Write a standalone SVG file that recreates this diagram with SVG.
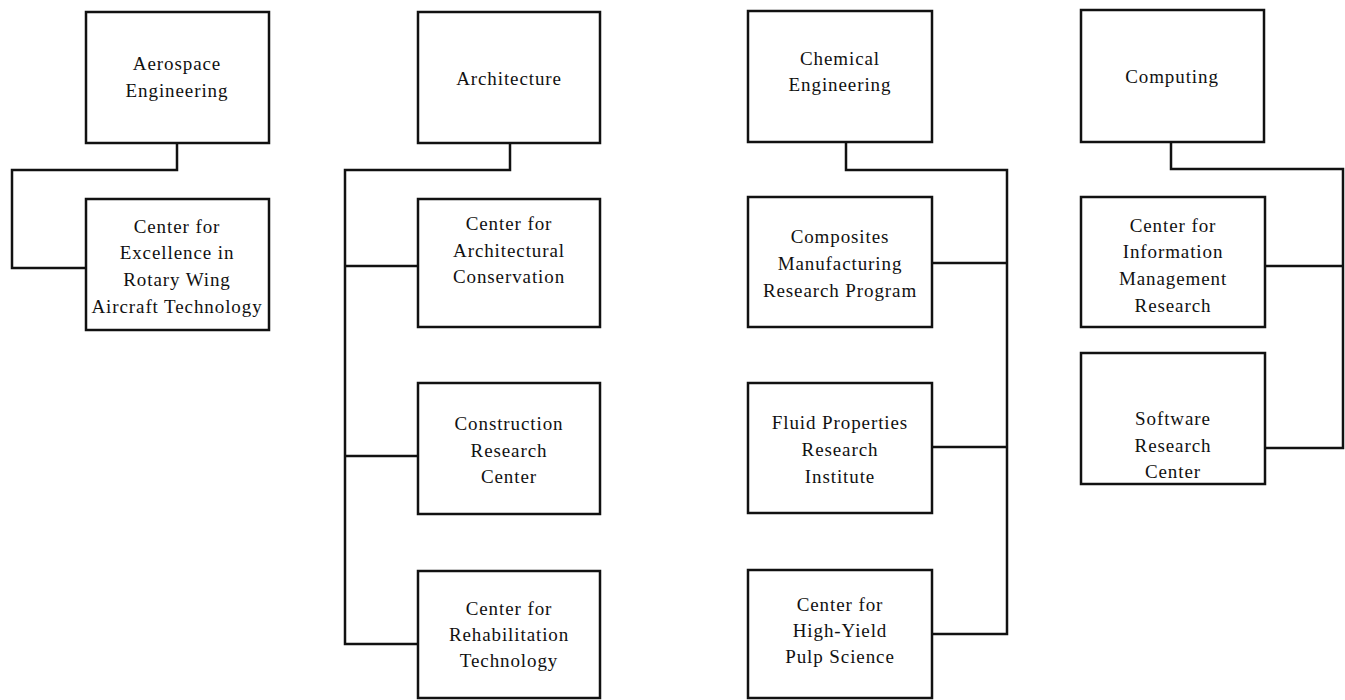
<svg xmlns="http://www.w3.org/2000/svg" width="1345" height="700" viewBox="0 0 1345 700">
  <style>
    .box { fill: #ffffff; stroke: #111111; stroke-width: 2.5; }
    .lbl { font-family: "Liberation Serif", "Times New Roman", serif; font-size: 19px; letter-spacing: 0.9px; fill: #111111; text-anchor: middle; }
    .wire { fill: none; stroke: #111111; stroke-width: 2.5; stroke-linejoin: miter; }
  </style>
  <rect width="1345" height="700" fill="#ffffff"/>

  <!-- connectors -->
  <g id="connectors">
    <path class="wire" d="M177,143 V170 H12 V268 H86"/>
    <path class="wire" d="M510,143 V170 H345 V644 H418 M345,266 H418 M345,456 H418"/>
    <path class="wire" d="M846,142 V170 H1007 V634 H932 M932,263 H1007 M932,447 H1007"/>
    <path class="wire" d="M1171,142 V169 H1343 V448 H1265 M1265,266 H1343"/>
  </g>

  <!-- Aerospace Engineering column -->
  <g id="aerospace">
    <rect class="box" x="86" y="12" width="183" height="131"/>
    <text class="lbl" x="177" y="70">Aerospace<tspan x="177" y="97">Engineering</tspan></text>
  </g>
  <g id="rotary-wing">
    <rect class="box" x="86" y="199" width="183" height="131"/>
    <text class="lbl" x="177" y="233">Center for<tspan x="177" y="259">Excellence in</tspan><tspan x="177" y="286">Rotary Wing</tspan><tspan x="177" y="313">Aircraft Technology</tspan></text>
  </g>

  <!-- Architecture column -->
  <g id="architecture">
    <rect class="box" x="418" y="12" width="182" height="131"/>
    <text class="lbl" x="509" y="85">Architecture</text>
  </g>
  <g id="arch-conservation">
    <rect class="box" x="418" y="199" width="182" height="128"/>
    <text class="lbl" x="509" y="230">Center for<tspan x="509" y="257">Architectural</tspan><tspan x="509" y="283">Conservation</tspan></text>
  </g>
  <g id="construction">
    <rect class="box" x="418" y="383" width="182" height="131"/>
    <text class="lbl" x="509" y="430">Construction<tspan x="509" y="457">Research</tspan><tspan x="509" y="483">Center</tspan></text>
  </g>
  <g id="rehabilitation">
    <rect class="box" x="418" y="571" width="182" height="127"/>
    <text class="lbl" x="509" y="615">Center for<tspan x="509" y="641">Rehabilitation</tspan><tspan x="509" y="667">Technology</tspan></text>
  </g>

  <!-- Chemical Engineering column -->
  <g id="chemical">
    <rect class="box" x="748" y="11" width="184" height="131"/>
    <text class="lbl" x="840" y="65">Chemical<tspan x="840" y="91">Engineering</tspan></text>
  </g>
  <g id="composites">
    <rect class="box" x="748" y="197" width="184" height="130"/>
    <text class="lbl" x="840" y="243">Composites<tspan x="840" y="270">Manufacturing</tspan><tspan x="840" y="297">Research Program</tspan></text>
  </g>
  <g id="fluid-properties">
    <rect class="box" x="748" y="383" width="184" height="130"/>
    <text class="lbl" x="840" y="429">Fluid Properties<tspan x="840" y="456">Research</tspan><tspan x="840" y="483">Institute</tspan></text>
  </g>
  <g id="pulp-science">
    <rect class="box" x="748" y="570" width="184" height="128"/>
    <text class="lbl" x="840" y="611">Center for<tspan x="840" y="637">High-Yield</tspan><tspan x="840" y="663">Pulp Science</tspan></text>
  </g>

  <!-- Computing column -->
  <g id="computing">
    <rect class="box" x="1081" y="10" width="183" height="132"/>
    <text class="lbl" x="1172" y="83">Computing</text>
  </g>
  <g id="info-management">
    <rect class="box" x="1081" y="197" width="184" height="130"/>
    <text class="lbl" x="1173" y="232">Center for<tspan x="1173" y="258">Information</tspan><tspan x="1173" y="285">Management</tspan><tspan x="1173" y="312">Research</tspan></text>
  </g>
  <g id="software">
    <rect class="box" x="1081" y="353" width="184" height="131"/>
    <text class="lbl" x="1173" y="425">Software<tspan x="1173" y="452">Research</tspan><tspan x="1173" y="478">Center</tspan></text>
  </g>
</svg>
